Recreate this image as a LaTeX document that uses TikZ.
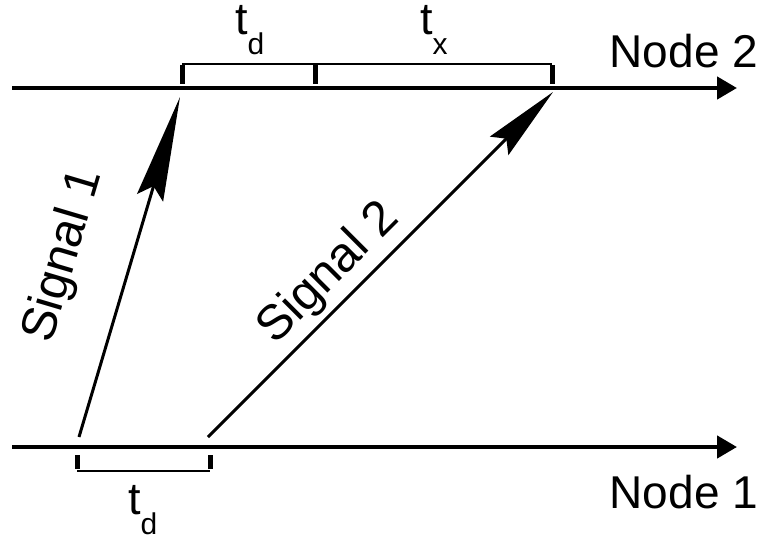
\documentclass[tikz,border=0pt]{standalone}
\usepackage{fontspec}
\setmainfont{Liberation Sans}
\usetikzlibrary{arrows.meta}
\begin{document}
\begin{tikzpicture}[x=1pt,y=-1pt,
  timeline/.style={line width=4.5pt,-{Triangle[length=20pt,width=22pt]}},
  signal/.style={line width=3pt},
  brk/.style={line width=2pt},
  tick/.style={line width=5pt},
  bigtext/.style={inner sep=0pt,font=\fontsize{46}{55}\selectfont},
  sigtext/.style={inner sep=0pt,font=\fontsize{49}{58}\selectfont},
  tlabel/.style={inner sep=0pt,anchor=base west,font=\fontsize{45}{54}\selectfont}]
\useasboundingbox (0,0) rectangle (766,535);
% timelines
\coordinate (n2a) at (12,88);
\coordinate (n2b) at (737,88);
\coordinate (n1a) at (12,447);
\coordinate (n1b) at (737,447);
\draw[timeline] (n2a) -- (n2b);
\draw[timeline] (n1a) -- (n1b);
\node[bigtext,anchor=base west] (lab2) at (609.5,67) {Node 2};
\node[bigtext,anchor=base west] (lab1) at (609.5,508) {Node 1};
% signals
\coordinate (s1a) at (79,437);
\coordinate (s1b) at (180,97);
\coordinate (s2a) at (208,437);
\coordinate (s2b) at (553,92);
\draw[signal,-{Stealth[length=105pt,width=27pt,inset=12pt]}] (s1a) -- (s1b);
\draw[signal,-{Stealth[length=76pt,width=26pt,inset=10pt]}] (s2a) -- (s2b);
\node[sigtext,rotate=73.5] (sig1) at (64,256) {Signal 1};
\node[sigtext,rotate=45] (sig2) at (329,274) {Signal 2};
% top brackets
\coordinate (ta) at (182,64.5);
\coordinate (tb) at (315,64.5);
\coordinate (tc) at (552,64.5);
\draw[brk] (ta) -- (tc);
\draw[tick] ([yshift=-1pt]ta) -- ++(0,18.5);
\draw[tick] ([yshift=-1pt]tb) -- ++(0,18.5);
\draw[tick] ([yshift=-1pt]tc) -- ++(0,18.5);
\node[tlabel] (td2) at (235,35) {t\raisebox{-20pt}{\fontsize{30}{32}\selectfont d}};
\node[tlabel] (tx2) at (420,35) {t\raisebox{-20pt}{\fontsize{30}{32}\selectfont x}};
% bottom bracket
\coordinate (ba) at (77,470.5);
\coordinate (bb) at (210,470.5);
\draw[brk] (ba) -- (bb);
\draw[tick] ([yshift=1.5pt]ba) -- ++(0,-14);
\draw[tick] ([yshift=1.5pt]bb) -- ++(0,-14);
\node[tlabel] (td1) at (128,514) {t\raisebox{-20pt}{\fontsize{30}{32}\selectfont d}};
\end{tikzpicture}
\end{document}
